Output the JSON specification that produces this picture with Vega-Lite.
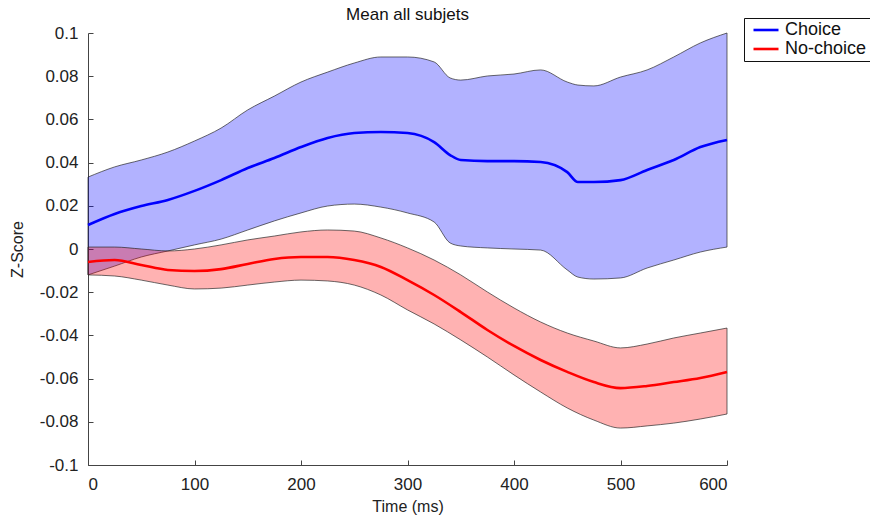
{
  "$schema": "https://vega.github.io/schema/vega-lite/v6.json",
  "width": 639,
  "height": 432,
  "autosize": {"type": "none"},
  "padding": {"left": 88, "top": 33, "right": 143, "bottom": 55},
  "background": "white",
  "view": {"stroke": null},
  "title": {"text": "Mean all subjets", "font": "Liberation Sans", "fontSize": 17, "fontWeight": "normal", "color": "#111", "anchor": "middle", "offset": -6},
  "config": {
    "axis": {"domainColor": "#444", "tickColor": "#444", "labelFont": "Liberation Sans", "labelFontSize": 17, "labelColor": "#222", "tickSize": -5, "grid": false, "titleFont": "Liberation Sans", "titleFontSize": 16, "titleFontWeight": "normal", "titleColor": "#222"},
    "legend": {"labelFont": "Liberation Sans", "labelFontSize": 18, "labelColor": "#111"}
  },
  "datasets": {
    "bands": [
      {"t": 0, "g": "Choice", "m": 0.0111, "lo": -0.0120, "hi": 0.0333},
      {"t": 25, "g": "Choice", "m": 0.0162, "lo": -0.0079, "hi": 0.0380},
      {"t": 50, "g": "Choice", "m": 0.0199, "lo": -0.0037, "hi": 0.0412},
      {"t": 75, "g": "Choice", "m": 0.0227, "lo": -0.0009, "hi": 0.0449},
      {"t": 100, "g": "Choice", "m": 0.0269, "lo": 0.0019, "hi": 0.0500},
      {"t": 125, "g": "Choice", "m": 0.0319, "lo": 0.0046, "hi": 0.0560},
      {"t": 150, "g": "Choice", "m": 0.0375, "lo": 0.0088, "hi": 0.0644},
      {"t": 175, "g": "Choice", "m": 0.0421, "lo": 0.0130, "hi": 0.0708},
      {"t": 200, "g": "Choice", "m": 0.0472, "lo": 0.0167, "hi": 0.0773},
      {"t": 225, "g": "Choice", "m": 0.0514, "lo": 0.0199, "hi": 0.0819},
      {"t": 250, "g": "Choice", "m": 0.0537, "lo": 0.0208, "hi": 0.0861},
      {"t": 275, "g": "Choice", "m": 0.0542, "lo": 0.0194, "hi": 0.0889},
      {"t": 300, "g": "Choice", "m": 0.0537, "lo": 0.0167, "hi": 0.0889},
      {"t": 325, "g": "Choice", "m": 0.0495, "lo": 0.0125, "hi": 0.0866},
      {"t": 340, "g": "Choice", "m": 0.0435, "lo": 0.0028, "hi": 0.0792},
      {"t": 350, "g": "Choice", "m": 0.0412, "lo": 0.0014, "hi": 0.0782},
      {"t": 375, "g": "Choice", "m": 0.0407, "lo": 0.0005, "hi": 0.0801},
      {"t": 400, "g": "Choice", "m": 0.0407, "lo": 0.0000, "hi": 0.0810},
      {"t": 425, "g": "Choice", "m": 0.0403, "lo": -0.0005, "hi": 0.0829},
      {"t": 450, "g": "Choice", "m": 0.0356, "lo": -0.0097, "hi": 0.0773},
      {"t": 460, "g": "Choice", "m": 0.0310, "lo": -0.0130, "hi": 0.0759},
      {"t": 475, "g": "Choice", "m": 0.0310, "lo": -0.0139, "hi": 0.0755},
      {"t": 500, "g": "Choice", "m": 0.0319, "lo": -0.0134, "hi": 0.0796},
      {"t": 525, "g": "Choice", "m": 0.0366, "lo": -0.0088, "hi": 0.0829},
      {"t": 550, "g": "Choice", "m": 0.0412, "lo": -0.0051, "hi": 0.0889},
      {"t": 575, "g": "Choice", "m": 0.0472, "lo": -0.0014, "hi": 0.0954},
      {"t": 600, "g": "Choice", "m": 0.0505, "lo": 0.0009, "hi": 0.1000},
      {"t": 0, "g": "No-choice", "m": -0.0060, "lo": -0.0120, "hi": 0.0009},
      {"t": 25, "g": "No-choice", "m": -0.0051, "lo": -0.0125, "hi": 0.0009},
      {"t": 50, "g": "No-choice", "m": -0.0074, "lo": -0.0144, "hi": 0.0000},
      {"t": 75, "g": "No-choice", "m": -0.0097, "lo": -0.0167, "hi": -0.0009},
      {"t": 100, "g": "No-choice", "m": -0.0102, "lo": -0.0185, "hi": 0.0000},
      {"t": 125, "g": "No-choice", "m": -0.0093, "lo": -0.0181, "hi": 0.0019},
      {"t": 150, "g": "No-choice", "m": -0.0069, "lo": -0.0167, "hi": 0.0042},
      {"t": 175, "g": "No-choice", "m": -0.0046, "lo": -0.0153, "hi": 0.0060},
      {"t": 200, "g": "No-choice", "m": -0.0037, "lo": -0.0144, "hi": 0.0079},
      {"t": 225, "g": "No-choice", "m": -0.0037, "lo": -0.0148, "hi": 0.0088},
      {"t": 250, "g": "No-choice", "m": -0.0051, "lo": -0.0167, "hi": 0.0083},
      {"t": 275, "g": "No-choice", "m": -0.0083, "lo": -0.0213, "hi": 0.0051},
      {"t": 300, "g": "No-choice", "m": -0.0144, "lo": -0.0282, "hi": 0.0005},
      {"t": 325, "g": "No-choice", "m": -0.0213, "lo": -0.0347, "hi": -0.0051},
      {"t": 350, "g": "No-choice", "m": -0.0292, "lo": -0.0421, "hi": -0.0120},
      {"t": 375, "g": "No-choice", "m": -0.0375, "lo": -0.0500, "hi": -0.0199},
      {"t": 400, "g": "No-choice", "m": -0.0449, "lo": -0.0583, "hi": -0.0273},
      {"t": 425, "g": "No-choice", "m": -0.0514, "lo": -0.0662, "hi": -0.0338},
      {"t": 450, "g": "No-choice", "m": -0.0569, "lo": -0.0736, "hi": -0.0389},
      {"t": 475, "g": "No-choice", "m": -0.0616, "lo": -0.0792, "hi": -0.0426},
      {"t": 500, "g": "No-choice", "m": -0.0644, "lo": -0.0829, "hi": -0.0458},
      {"t": 525, "g": "No-choice", "m": -0.0634, "lo": -0.0819, "hi": -0.0440},
      {"t": 550, "g": "No-choice", "m": -0.0616, "lo": -0.0806, "hi": -0.0412},
      {"t": 575, "g": "No-choice", "m": -0.0597, "lo": -0.0787, "hi": -0.0389},
      {"t": 600, "g": "No-choice", "m": -0.0569, "lo": -0.0764, "hi": -0.0366}
    ]
  },
  "data": {"name": "bands"},
  "encoding": {
    "x": {"field": "t", "type": "quantitative", "scale": {"domain": [0, 600], "nice": false, "zero": false},
      "axis": {"title": "Time (ms)", "values": [0, 100, 200, 300, 400, 500, 600], "labelPadding": 16, "titlePadding": 6}}
  },
  "layer": [
    {
      "transform": [{"filter": "datum.g == 'Choice'"}],
      "mark": {"type": "area", "interpolate": "monotone", "fill": "#0000FF", "fillOpacity": 0.3, "stroke": "#222", "strokeWidth": 0.8, "strokeOpacity": 0.85},
      "encoding": {
        "y": {"field": "lo", "type": "quantitative", "scale": {"domain": [-0.1, 0.1], "nice": false, "zero": false},
          "axis": {"title": "Z-Score", "values": [-0.1, -0.08, -0.06, -0.04, -0.02, 0, 0.02, 0.04, 0.06, 0.08, 0.1], "labelExpr": "replace(format(datum.value, '.2~f'), '\u2212', '-')", "labelPadding": 15, "titlePadding": 14}},
        "y2": {"field": "hi"}
      }
    },
    {
      "transform": [{"filter": "datum.g == 'No-choice'"}],
      "mark": {"type": "area", "interpolate": "monotone", "fill": "#FF0000", "fillOpacity": 0.3, "stroke": "#222", "strokeWidth": 0.8, "strokeOpacity": 0.85},
      "encoding": {
        "y": {"field": "lo", "type": "quantitative"},
        "y2": {"field": "hi"}
      }
    },
    {
      "mark": {"type": "line", "interpolate": "monotone", "strokeWidth": 2.6},
      "encoding": {
        "y": {"field": "m", "type": "quantitative"},
        "color": {"field": "g", "type": "nominal", "scale": {"domain": ["Choice", "No-choice"], "range": ["#0000FF", "#FF0000"]},
          "legend": {"title": null, "orient": "none", "legendX": 656, "legendY": -15, "symbolType": "M-2,0L2,0", "symbolSize": 156.25, "symbolStrokeWidth": 2.6, "symbolOffset": 10, "strokeColor": "#111", "fillColor": "white", "padding": 3, "rowPadding": 1, "labelOffset": 10}}
      }
    }
  ]
}
